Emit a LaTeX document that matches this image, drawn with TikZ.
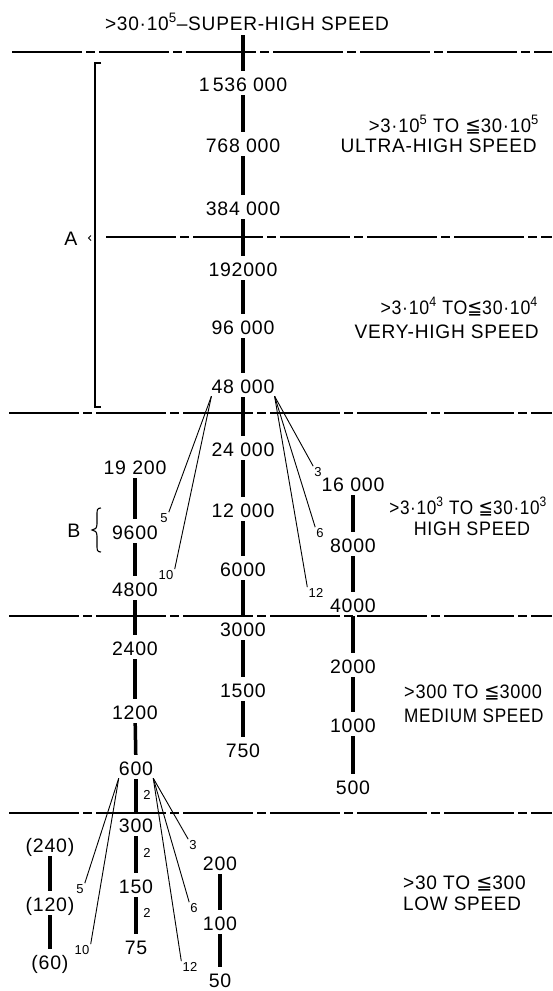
\documentclass[tikz,border=0pt]{standalone}
\usepackage{fontspec}
\setmainfont{Liberation Sans}[LetterSpace=4]
\newfontfamily\symfont{DejaVu Sans}[LetterSpace=0]
\newcommand\mylq{{\symfont ≦}}
\begin{document}
\begin{tikzpicture}[x=1pt,y=-1pt,
  font=\fontsize{19.5}{22}\selectfont,
  lab/.style={inner xsep=0pt, inner ysep=3pt, text height=14pt, text depth=0pt},
  sml/.style={font=\fontsize{13}{15}\selectfont, inner sep=1pt, text height=9.3pt, text depth=0pt},
  seg/.style={line width=3.5pt, shorten <=1pt, shorten >=3pt},
  segend/.style={line width=3.5pt, shorten <=1pt},
  segstart/.style={line width=3.5pt, shorten >=3pt},
  fan/.style={line width=0.9pt},
  divider/.style={line width=2pt, dash pattern=on 70pt off 4pt on 9pt off 4pt},
  bracketline/.style={line width=1.2pt},
]
\useasboundingbox (0,0) rectangle (552,991);

% dividers
\coordinate (d1a) at (12,52);  \coordinate (d1b) at (552,52);
\coordinate (d2a) at (106,237); \coordinate (d2b) at (552,237);
\coordinate (d3a) at (9,413);  \coordinate (d3b) at (552,413);
\coordinate (d4a) at (9,616);  \coordinate (d4b) at (552,616);
\coordinate (d5a) at (9,813);  \coordinate (d5b) at (552,813);
\draw[divider] (d1a) -- (d1b);
\draw[divider] (d2a) -- (d2b);
\draw[divider] (d3a) -- (d3b);
\draw[divider] (d4a) -- (d4b);
\draw[divider] (d5a) -- (d5b);

% title
\node[lab] (title) at (247,23) {\scalebox{0.98}[1]{>30·10\textsuperscript{5}–SUPER-HIGH SPEED}};

% main column
\node[lab] (n1536) at (243,84) {1\,536 000};
\node[lab] (n768) at (243,145) {768 000};
\node[lab] (n384) at (243,208) {384 000};
\node[lab] (n192) at (243,269) {192000};
\node[lab] (n96) at (243,327) {96 000};
\node[lab] (n48) at (243,386) {48 000};
\node[lab] (n24) at (243,449) {24 000};
\node[lab] (n12) at (243,510) {12 000};
\node[lab] (n6) at (243,569) {6000};
\node[lab] (n3) at (243,629) {3000};
\node[lab] (n15) at (243,690) {1500};
\node[lab] (n75) at (243,750) {750};
\coordinate (ctop) at (243,35);
\coordinate (c6) at (243,616);
\draw[segstart] (ctop) -- (n1536);
\draw[seg] (n1536) -- (n768);
\draw[seg] (n768) -- (n384);
\draw[seg] (n384) -- (n192);
\draw[seg] (n192) -- (n96);
\draw[seg] (n96) -- (n48);
\draw[seg] (n48) -- (n24);
\draw[seg] (n24) -- (n12);
\draw[seg] (n12) -- (n6);
\draw[segend] (n6) -- (c6);
\draw[seg] (n3) -- (n15);
\draw[seg] (n15) -- (n75);

% left column
\node[lab] (m192) at (135,467) {19 200};
\node[lab] (m96) at (135,532) {9600};
\node[lab] (m48) at (135,589) {4800};
\node[lab] (m24) at (135,648) {2400};
\node[lab] (m12) at (135,712) {1200};
\node[lab] (m6) at (136,768) {600};
\node[lab] (m3) at (136,825) {300};
\node[lab] (m15) at (136,886) {150};
\node[lab] (m75) at (136,947) {75};
\coordinate (c600) at (136,813);
\draw[seg] (m192) -- (m96);
\draw[seg] (m96) -- (m48);
\draw[seg] (m48) -- (m24);
\draw[seg] (m24) -- (m12);
\draw[seg] (m12) -- (m6);
\draw[segend] (m6) -- (c600);
\draw[seg] (m3) -- (m15);
\draw[seg] (m15) -- (m75);
\node[sml] (two1) at (147,795) {2};
\node[sml] (two2) at (147,853) {2};
\node[sml] (two3) at (147,913) {2};

% right column
\node[lab] (r16) at (353,484) {16 000};
\node[lab] (r8) at (353,545) {8000};
\node[lab] (r4) at (353,605) {4000};
\node[lab] (r2) at (353,666) {2000};
\node[lab] (r1) at (353,725) {1000};
\node[lab] (r5) at (353,787) {500};
\coordinate (c4) at (353,616);
\draw[seg] (r16) -- (r8);
\draw[seg] (r8) -- (r4);
\draw[segstart] (c4) -- (r2);
\draw[seg] (r2) -- (r1);
\draw[seg] (r1) -- (r5);

% low right column
\node[lab] (q2) at (220,863) {200};
\node[lab] (q1) at (220,923) {100};
\node[lab] (q5) at (220,980) {50};
\draw[seg] (q2) -- (q1);
\draw[seg] (q1) -- (q5);

% low left column
\node[lab] (p24) at (50,845) {(240)};
\node[lab] (p12) at (50,904) {(120)};
\node[lab] (p6) at (50,962) {(60)};
\draw[seg] (p24) -- (p12);
\draw[seg] (p12) -- (p6);

% superscript labels
\node[sml] (s5) at (164,518) {5};
\node[sml] (s10) at (166,575) {10};
\node[sml] (s3) at (318,472) {3};
\node[sml] (s6) at (320,533) {6};
\node[sml] (s12) at (316,593) {12};
\node[sml] (t5) at (80,889) {5};
\node[sml] (t10) at (82,950) {10};
\node[sml] (t3) at (193,845) {3};
\node[sml] (t6) at (194,908) {6};
\node[sml] (t12) at (190,967) {12};

% fans from 48000
\draw[fan] (n48.south west) -- (s5.north east);
\draw[fan] (n48.south west) -- (s10.north east);
\draw[fan] (n48.south east) -- (s3.north west);
\draw[fan] (n48.south east) -- (s6.north west);
\draw[fan] (n48.south east) -- (s12.north west);
% fans from 600
\draw[fan] (m6.south west) -- (t5.north east);
\draw[fan] (m6.south west) -- (t10.north east);
\draw[fan] (m6.south east) -- (t3.north west);
\draw[fan] (m6.south east) -- (t6.north west);
\draw[fan] (m6.south east) -- (t12.north west);

% range labels
\node[lab, anchor=east] (u1) at (539,125) {\scalebox{0.95}[1]{>3·10\textsuperscript{5} TO \mylq30·10\textsuperscript{5}}};
\node[lab, anchor=east] (u2) at (537,145) {\scalebox{0.98}[1]{ULTRA-HIGH SPEED}};
\node[lab, anchor=east] (v1) at (538,307) {\scalebox{0.91}[1]{>3·10\textsuperscript{4} TO\mylq30·10\textsuperscript{4}}};
\node[lab, anchor=east] (v2) at (539,331) {\scalebox{0.98}[1]{VERY-HIGH SPEED}};
\node[lab, anchor=east] (h1) at (547,507) {\scalebox{0.88}[1]{>3·10\textsuperscript{3} TO \mylq30·10\textsuperscript{3}}};
\node[lab] (h2) at (472,528) {\scalebox{0.92}[1]{HIGH SPEED}};
\node[lab, anchor=west] (md1) at (404,691) {\scalebox{0.93}[1]{>300 TO \mylq3000}};
\node[lab, anchor=west] (md2) at (404,715) {\scalebox{0.88}[1]{MEDIUM SPEED}};
\node[lab, anchor=west] (lw1) at (403,882) {\scalebox{0.98}[1]{>30 TO \mylq300}};
\node[lab, anchor=west] (lw2) at (403,903) {\scalebox{0.97}[1]{LOW SPEED}};

% bracket A
\draw[bracketline] (101,63) -- (95,63) -- (95,407) -- (101,407);
\node[lab] (A) at (71,238) {A};
\draw[line width=1pt] (91,235.5) -- (88.5,238) -- (91,240.5);

% brace B
\node[lab] (B) at (74,530) {B};
\draw[line width=1.1pt] (101,508) .. controls (97,508) and (97,510) .. (97,515) -- (97,524) .. controls (97,528) and (95,530) .. (92,530) .. controls (95,530) and (97,532) .. (97,536) -- (97,545) .. controls (97,550) and (97,552) .. (101,552);
\end{tikzpicture}
\end{document}
